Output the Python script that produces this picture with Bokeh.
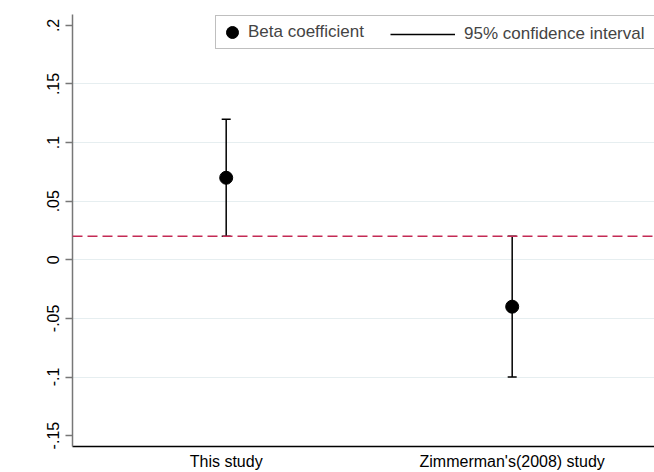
from bokeh.plotting import figure
from bokeh.models import (Range1d, FixedTicker, Whisker, TeeHead, Span, Legend,
                          LegendItem, ColumnDataSource)
from bokeh.embed import file_html
from bokeh.resources import INLINE

# ---- data ----
studies = ["This study", "Zimmerman's(2008) study"]
beta = [0.07, -0.04]
ci_low = [0.02, -0.10]
ci_high = [0.12, 0.02]
ref_value = 0.02
y_ticks = [-0.15, -0.10, -0.05, 0.0, 0.05, 0.10, 0.15, 0.20]
y_tick_labels = ["-.15", "-.1", "-.05", "0", ".05", ".1", ".15", ".2"]

xs = list(range(1, len(studies) + 1))
src = ColumnDataSource(dict(x=xs, beta=beta, lo=ci_low, hi=ci_high))

FONT = "Liberation Sans"

p = figure(width=654, height=472, output_backend="svg", toolbar_location=None,
           x_range=Range1d(0.4626, 2.4976), y_range=Range1d(-0.1593, 0.2093),
           min_border_left=72, min_border_right=0, min_border_top=14,
           min_border_bottom=23)
p.outline_line_color = None
p.background_fill_color = "white"
p.border_fill_color = "white"

# grid
p.xgrid.visible = False
p.ygrid.ticker = FixedTicker(ticks=y_ticks[1:-1])
p.ygrid.grid_line_color = "#e6eef0"
p.ygrid.grid_line_width = 1

# y axis
ya = p.yaxis[0]
ya.ticker = FixedTicker(ticks=y_ticks)
ya.major_label_overrides = {t: l for t, l in zip(y_ticks, y_tick_labels)}
ya.major_label_orientation = "vertical"
ya.major_label_text_font = FONT
ya.major_label_text_font_size = "16px"
ya.major_label_text_color = "black"
ya.axis_line_color = "#777777"
ya.axis_line_width = 1.5
ya.major_tick_line_color = "#777777"
ya.major_tick_line_width = 1.5
ya.major_tick_out = 7
ya.major_tick_in = 0
ya.minor_tick_line_color = None
ya.major_label_standoff = 6

# x axis
xa = p.xaxis[0]
xa.ticker = FixedTicker(ticks=xs)
xa.major_label_overrides = {x: s for x, s in zip(xs, studies)}
xa.major_label_text_font = FONT
xa.major_label_text_font_size = "16px"
xa.major_label_text_color = "black"
xa.axis_line_color = "black"
xa.axis_line_width = 1.5
xa.major_tick_line_color = None
xa.major_tick_out = 0
xa.major_tick_in = 0
xa.minor_tick_line_color = None
xa.major_label_standoff = 6

# reference line
p.add_layout(Span(location=ref_value, dimension="width", line_color="#c42a55",
                  line_width=1.5, line_dash="10 5"))

# CI
ci_r = p.segment(x0="x", y0="lo", x1="x", y1="hi", source=src,
                 line_color="black", line_width=1.5)
wh = Whisker(base="x", lower="lo", upper="hi", source=src, line_alpha=0,
             lower_head=TeeHead(size=9, line_color="black", line_width=1.5),
             upper_head=TeeHead(size=9, line_color="black", line_width=1.5))
p.add_layout(wh)

# points
pt_r = p.scatter(x="x", y="beta", source=src, size=13, color="black")

# legends
leg_a = Legend(items=[LegendItem(label="Beta coefficient", renderers=[pt_r])],
               location=(143, 397), orientation="horizontal", margin=0,
               padding=1, glyph_width=30, glyph_height=30, label_standoff=1,
               label_width=430, label_text_font=FONT, label_text_font_size="17px",
               border_line_color="#808080", border_line_width=1.5,
               background_fill_color="white", background_fill_alpha=1)
leg_b = Legend(items=[LegendItem(label="95% confidence interval", renderers=[ci_r])],
               location=(318, 397), orientation="horizontal", margin=0,
               padding=1, glyph_width=65, glyph_height=30, label_standoff=9,
               label_text_font=FONT, label_text_font_size="17px",
               border_line_color=None, background_fill_alpha=0)
p.add_layout(leg_a)
p.add_layout(leg_b)

open("out.html", "w").write(file_html(p, INLINE))
